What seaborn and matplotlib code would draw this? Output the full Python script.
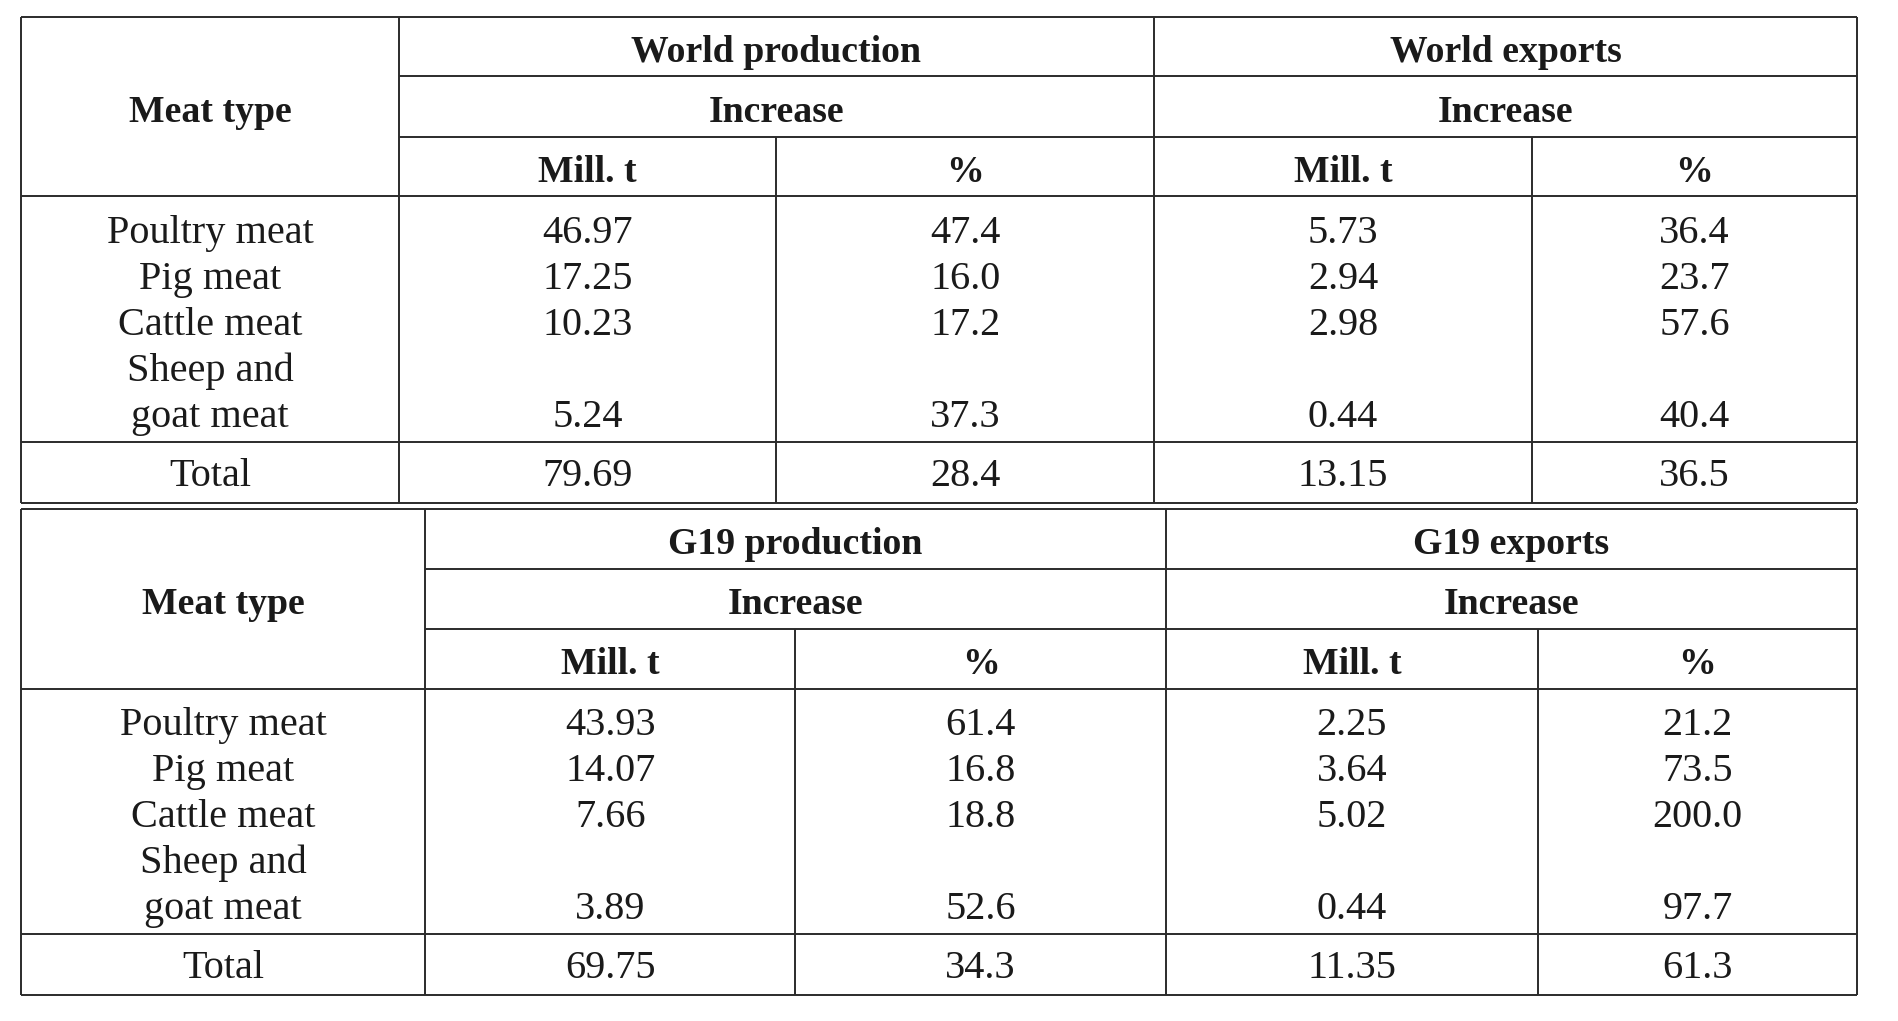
import matplotlib.pyplot as plt
import seaborn as sns

# Meat increases, world vs G19
meat_types = ["Poultry meat", "Pig meat", "Cattle meat", "Sheep and\ngoat meat"]

world_prod_mt = [46.97, 17.25, 10.23, 5.24]
world_prod_pct = [47.4, 16.0, 17.2, 37.3]
world_exp_mt = [5.73, 2.94, 2.98, 0.44]
world_exp_pct = [36.4, 23.7, 57.6, 40.4]
world_totals = [79.69, 28.4, 13.15, 36.5]

g19_prod_mt = [43.93, 14.07, 7.66, 3.89]
g19_prod_pct = [61.4, 16.8, 18.8, 52.6]
g19_exp_mt = [2.25, 3.64, 5.02, 0.44]
g19_exp_pct = [21.2, 73.5, 200.0, 97.7]
g19_totals = [69.75, 34.3, 11.35, 61.3]

world_groups = ["World production", "World exports"]
g19_groups = ["G19 production", "G19 exports"]
sub_header = "Increase"
unit_headers = ["Mill. t", "%"]

sns.set_theme(style="white")
plt.rcParams['font.family'] = ['Liberation Serif', 'DejaVu Serif']

W, H = 1899, 1021
fig = plt.figure(figsize=(W / 100, H / 100), dpi=100)
ax = fig.add_axes([0, 0, 1, 1])
ax.set_xlim(0, W)
ax.set_ylim(H, 0)
ax.axis('off')

LINE = '#2b2b2b'
TXT = '#1a1a1a'
FS = 29
FS_HEAD = 27.2
LW = 1.4

# row edges relative to the top of each table
row_off = [0, 59.5, 120, 179.5, 424.5, 486]
line_step = 46


def draw_table(top, cols, groups, columns, totals):
    y = [top + r for r in row_off]
    left, right = cols[0], cols[-1]
    # horizontal rules
    ax.hlines([y[0], y[3], y[4], y[5]], left, right, color=LINE, lw=LW)
    ax.hlines([y[1], y[2]], cols[1], right, color=LINE, lw=LW)
    # vertical rules
    ax.vlines([left, cols[1], cols[3], right], y[0], y[5], color=LINE, lw=LW)
    ax.vlines([cols[2], cols[4]], y[2], y[5], color=LINE, lw=LW)

    centers = [(cols[i] + cols[i + 1]) / 2 for i in range(len(cols) - 1)]
    bold = dict(fontsize=FS_HEAD, fontweight='bold', color=TXT, ha='center', va='baseline')
    ax.text(centers[0], (y[0] + y[3]) / 2 + 15, "Meat type", **bold)
    for g, name in enumerate(groups):
        gx = (cols[1 + 2 * g] + cols[3 + 2 * g]) / 2
        ax.text(gx, (y[0] + y[1]) / 2 + 15, name, **bold)
        ax.text(gx, (y[1] + y[2]) / 2 + 15, sub_header, **bold)
        for k, u in enumerate(unit_headers):
            ax.text(centers[1 + 2 * g + k], (y[2] + y[3]) / 2 + 15, u, **bold)

    norm = dict(fontsize=FS, color=TXT, ha='center', va='baseline')
    line = 0
    base = y[3] + 46
    for i, name in enumerate(meat_types):
        parts = name.split("\n")
        for p in parts:
            ax.text(centers[0], base + line * line_step, p, **norm)
            line += 1
        vy = base + (line - 1) * line_step
        for c, vals in enumerate(columns):
            fmt = "{:.2f}" if c % 2 == 0 else "{:.1f}"
            ax.text(centers[c + 1], vy, fmt.format(vals[i]), **norm)

    ty = (y[4] + y[5]) / 2 + 13.5
    ax.text(centers[0], ty, "Total", **norm)
    for c, v in enumerate(totals):
        fmt = "{:.2f}" if c % 2 == 0 else "{:.1f}"
        ax.text(centers[c + 1], ty, fmt.format(v), **norm)


draw_table(17, [21, 399, 776.5, 1154, 1532, 1857], world_groups,
           [world_prod_mt, world_prod_pct, world_exp_mt, world_exp_pct], world_totals)
draw_table(509, [21, 425, 795.5, 1166, 1538, 1857], g19_groups,
           [g19_prod_mt, g19_prod_pct, g19_exp_mt, g19_exp_pct], g19_totals)

fig.savefig("out.png", dpi=100, facecolor='white')
